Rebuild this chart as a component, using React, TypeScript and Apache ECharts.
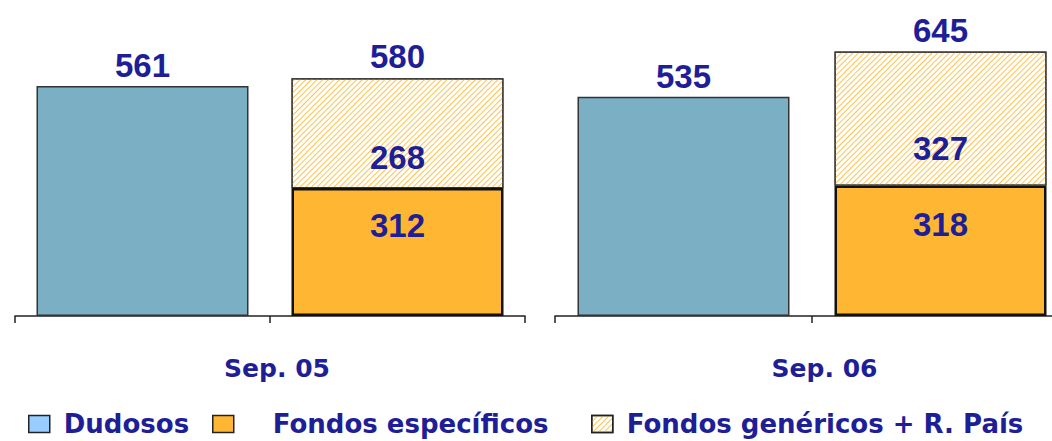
import React, { useEffect, useRef } from "react";
import * as echarts from "echarts";

const periods = ["Sep. 05", "Sep. 06"];
const barSlots = ["Dudosos", "Fondos"];
const dudosos = [561, 535];
const especificos = [312, 318];
const genericos = [268, 327];
const totals = [580, 645];
const legendNames = ["Dudosos", "Fondos específicos", "Fondos genéricos + R. País"];

const TEXT = "#1e1e96";
const BLUE = "#7bafc4";
const ORANGE = "#ffb733";
const LEGEND_BLUE = "#99ccff";

export default function App() {
  const ref = useRef<HTMLDivElement>(null);
  useEffect(() => {
    if (!ref.current) return;
    const chart = echarts.init(ref.current, undefined, { renderer: "svg" });
    const numLabel = {
      show: true,
      fontFamily: "Liberation Sans, Arial, sans-serif",
      fontWeight: "bold" as const,
      fontSize: 33,
      color: TEXT,
    };
    const grids = [
      { left: 15, top: 29, width: 510, height: 287 },
      { left: 555, top: 29, width: 514, height: 287 },
    ];
    const namePad = [14, 25];
    const xAxis = periods.map((p, i) => ({
      type: "category" as const,
      gridIndex: i,
      data: barSlots,
      name: p,
      nameLocation: "middle" as const,
      nameGap: 40,
      nameTextStyle: {
        fontFamily: "DejaVu Sans, sans-serif",
        fontWeight: "bold" as const,
        fontSize: 25,
        color: TEXT,
        padding: [0, 0, 0, namePad[i]],
      },
      axisLine: { lineStyle: { color: "#222", width: 1.5 } },
      axisTick: { show: true, length: 7, lineStyle: { color: "#222", width: 1.5 } },
      axisLabel: { show: false },
    }));
    const yAxis = periods.map((_, i) => ({
      type: "value" as const,
      gridIndex: i,
      min: 0,
      max: 700,
      show: false,
      splitLine: { show: false },
    }));
    const series: any[] = [];
    periods.forEach((_, i) => {
      series.push({
        name: legendNames[0],
        type: "bar",
        xAxisIndex: i,
        yAxisIndex: i,
        stack: "s" + i,
        barWidth: 212,
        data: [dudosos[i], "-"],
        itemStyle: { color: BLUE, borderColor: "#333", borderWidth: 1.5 },
        label: { ...numLabel, position: "top", distance: 4 },
      });
      series.push({
        name: legendNames[1],
        type: "bar",
        xAxisIndex: i,
        yAxisIndex: i,
        stack: "s" + i,
        barWidth: 212,
        data: ["-", especificos[i]],
        itemStyle: { color: ORANGE, borderColor: "#111", borderWidth: 2.5 },
        label: { ...numLabel, position: ["50%", "29.5%"], align: "center", verticalAlign: "middle" },
      });
      series.push({
        name: legendNames[2],
        type: "bar",
        xAxisIndex: i,
        yAxisIndex: i,
        stack: "s" + i,
        barWidth: 212,
        data: ["-", genericos[i]],
        itemStyle: {
          color: "#ffffff",
          borderColor: "#333",
          borderWidth: 1.2,
          decal: {
            symbol: "rect",
            symbolSize: 1,
            dashArrayX: [1, 0],
            dashArrayY: [1, 3],
            rotation: -Math.PI / 4,
            color: "#ffc24a",
          },
        },
        label: { ...numLabel, position: ["50%", "72%"], align: "center", verticalAlign: "middle" },
      });
      series.push({
        name: "Total",
        type: "bar",
        xAxisIndex: i,
        yAxisIndex: i,
        stack: "s" + i,
        barWidth: 212,
        data: ["-", 0],
        itemStyle: { color: "transparent", borderWidth: 0 },
        label: { ...numLabel, position: "top", distance: 5, formatter: () => String(totals[i]) },
      });
    });
    const legendLefts = [28, 212, 591];
    const legendPads = [9, 34, 9];
    const legend = legendNames.map((n, i) => ({
      data: [i === 0 ? { name: n, itemStyle: { color: LEGEND_BLUE } } : { name: n }],
      left: legendLefts[i],
      top: 411,
      padding: 0,
      icon: "rect",
      itemWidth: 21,
      itemHeight: 17,
      itemStyle: { borderColor: "#222", borderWidth: 1.5 },
      selectedMode: false,
      textStyle: {
        fontFamily: "DejaVu Sans, sans-serif",
        fontWeight: "bold" as const,
        fontSize: 26,
        color: TEXT,
        padding: [0, 0, 0, legendPads[i]],
      },
    }));
    chart.setOption({
      animation: false,
      backgroundColor: "#ffffff",
      grid: grids,
      xAxis,
      yAxis,
      legend,
      series,
    });
    return () => chart.dispose();
  }, []);
  return (
    <div
      style={{
        position: "fixed",
        left: 0,
        top: 0,
        width: 1052,
        height: 441,
        overflow: "hidden",
        background: "#ffffff",
      }}
    >
      <div ref={ref} style={{ width: 1080, height: 441 }} />
    </div>
  );
}
